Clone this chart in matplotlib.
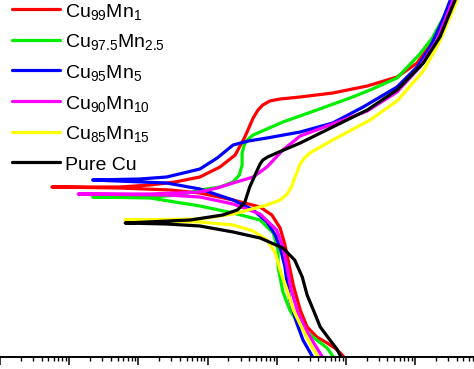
import numpy as np
import matplotlib
matplotlib.use("Agg")
import matplotlib.pyplot as plt
from matplotlib.ticker import LogLocator, NullFormatter

plt.rcParams['font.family'] = ['Liberation Sans', 'DejaVu Sans']

# log10 of current density (A/cm2) and potential (mV).
# Each branch starts at the corrosion potential tip.
labels = [r'Cu$_{\mathregular{99}}$Mn$_{\mathregular{1}}$',
          r'Cu$_{\mathregular{97.5}}$Mn$_{\mathregular{2.5}}$',
          r'Cu$_{\mathregular{95}}$Mn$_{\mathregular{5}}$',
          r'Cu$_{\mathregular{90}}$Mn$_{\mathregular{10}}$',
          r'Cu$_{\mathregular{85}}$Mn$_{\mathregular{15}}$',
          'Pure Cu']
colors = ['#ff0000', '#00ee00', '#0000ff', '#ff00ff', '#ffff00', '#000000']

# anodic branches
red_a_logi = [-7.25, -6.27, -5.83, -5.47, -5.11, -4.82, -4.60, -4.46, -4.34, -4.27, -4.20, -4.10, -3.95, -3.66, -3.19, -2.69, -2.26, -1.97, -1.78, -1.60, -1.47]
red_a_E = [-274, -274, -270, -264, -254, -234, -210, -174, -136, -120, -110, -102, -98, -94, -86, -72, -54, -26, 10, 56, 100]
green_a_logi = [-6.66, -5.83, -5.40, -5.11, -4.82, -4.63, -4.54, -4.50, -4.50, -4.46, -4.41, -4.34, -3.91, -3.42, -2.94, -2.65, -2.26, -1.93, -1.75, -1.57, -1.47]
green_a_E = [-294, -294, -290, -280, -274, -264, -250, -230, -206, -186, -178, -170, -144, -120, -96, -80, -56, -8, 24, 70, 100]
blue_a_logi = [-6.66, -5.98, -5.59, -5.11, -4.86, -4.63, -4.41, -4.14, -3.66, -3.19, -2.75, -2.26, -1.97, -1.78, -1.60, -1.49]
blue_a_E = [-260, -258, -254, -238, -216, -190, -182, -176, -164, -146, -114, -74, -34, 6, 60, 100]
mag_a_logi = [-6.87, -5.83, -5.11, -4.86, -4.63, -4.34, -4.14, -3.91, -3.66, -3.19, -2.69, -2.26, -1.93, -1.68, -1.45]
mag_a_E = [-288, -288, -284, -276, -266, -254, -234, -200, -172, -148, -122, -84, -34, 20, 100]
yel_a_logi = [-6.19, -5.11, -4.63, -4.14, -3.95, -3.85, -3.78, -3.74, -3.66, -3.60, -3.52, -3.19, -2.65, -2.26, -1.88, -1.64, -1.39]
yel_a_E = [-340, -338, -328, -310, -300, -288, -272, -256, -228, -216, -206, -180, -140, -102, -42, 18, 100]
blk_a_logi = [-6.19, -5.25, -4.78, -4.57, -4.52, -4.46, -4.39, -4.28, -4.24, -4.20, -4.13, -4.00, -3.66, -3.19, -2.69, -2.26, -1.88, -1.64, -1.42]
blk_a_E = [-346, -340, -330, -320, -314, -304, -274, -240, -228, -220, -214, -206, -186, -154, -120, -80, -26, 26, 100]

# cathodic branches
red_c_logi = [-7.25, -6.27, -5.54, -5.11, -4.63, -4.24, -4.07, -3.95, -3.88, -3.82, -3.76, -3.66, -3.56, -3.42, -3.27, -3.16, -3.08, -3.03]
red_c_E = [-274, -276, -280, -286, -300, -314, -330, -356, -390, -430, -470, -520, -554, -574, -586, -596, -606, -614]
green_c_logi = [-6.66, -5.83, -5.11, -4.63, -4.24, -4.05, -3.98, -3.98, -3.91, -3.81, -3.66, -3.42, -3.27, -3.18]
green_c_E = [-294, -296, -312, -326, -340, -366, -400, -434, -484, -520, -554, -580, -596, -614]
blue_c_logi = [-6.66, -5.59, -5.11, -4.63, -4.34, -4.14, -4.02, -3.94, -3.88, -3.85, -3.81, -3.71, -3.62, -3.48]
blue_c_E = [-262, -266, -278, -300, -320, -344, -370, -400, -434, -466, -500, -546, -580, -614]
mag_c_logi = [-6.87, -5.59, -5.11, -4.63, -4.24, -4.00, -3.91, -3.85, -3.79, -3.69, -3.55, -3.34]
mag_c_E = [-290, -290, -294, -308, -328, -360, -394, -434, -480, -526, -566, -614]
yel_c_logi = [-6.19, -5.11, -4.63, -4.34, -4.14, -4.02, -3.95, -3.85, -3.76, -3.62, -3.49, -3.40]
yel_c_E = [-342, -344, -350, -362, -380, -406, -440, -480, -520, -560, -594, -614]
blk_c_logi = [-6.19, -5.59, -5.11, -4.63, -4.24, -3.91, -3.74, -3.63, -3.56, -3.47, -3.37, -3.23, -3.13, -3.07]
blk_c_E = [-348, -348, -352, -364, -376, -396, -420, -454, -490, -520, -554, -580, -598, -614]

anodic = [(red_a_logi, red_a_E), (green_a_logi, green_a_E), (blue_a_logi, blue_a_E),
          (mag_a_logi, mag_a_E), (yel_a_logi, yel_a_E), (blk_a_logi, blk_a_E)]
cathodic = [(red_c_logi, red_c_E), (green_c_logi, green_c_E), (blue_c_logi, blue_c_E),
            (mag_c_logi, mag_c_E), (yel_c_logi, yel_c_E), (blk_c_logi, blk_c_E)]

fig = plt.figure(figsize=(4.74, 3.69), dpi=100)
ax = fig.add_axes([0, 12 / 369, 1, 357 / 369])

for (la, Ea), (lc, Ec), lab, col in zip(anodic, cathodic, labels, colors):
    logi = np.concatenate([np.array(la)[::-1], np.array(lc)[1:]])
    E = np.concatenate([np.array(Ea)[::-1], np.array(Ec)[1:]])
    ax.plot(10.0 ** logi, E, color=col, lw=2.3, label=lab,
            solid_joinstyle='round', solid_capstyle='round')

ax.set_xscale('log')
ax.set_xlim(1e-8, 10 ** (-8 + 474 / 69.17))
ax.set_ylim(-614, 100)
ax.xaxis.set_major_locator(LogLocator(base=10, numticks=20))
ax.xaxis.set_minor_locator(LogLocator(base=10, subs=np.arange(2, 10), numticks=20))
ax.xaxis.set_major_formatter(NullFormatter())
ax.xaxis.set_minor_formatter(NullFormatter())
ax.tick_params(axis='x', which='major', direction='out', length=5.8, width=1.1)
ax.tick_params(axis='x', which='minor', direction='out', length=2.9, width=1.0)
ax.set_yticks([])
for s in ['left', 'top', 'right']:
    ax.spines[s].set_visible(False)
ax.spines['bottom'].set_linewidth(1.4)

ax.legend(loc='upper left', bbox_to_anchor=(12 / 474, 0.997), frameon=False, fontsize=14,
          handlelength=2.47, handleheight=1.2, handletextpad=0.26, labelspacing=0.45,
          borderaxespad=0, borderpad=0)

fig.savefig('out.png', dpi=100)
